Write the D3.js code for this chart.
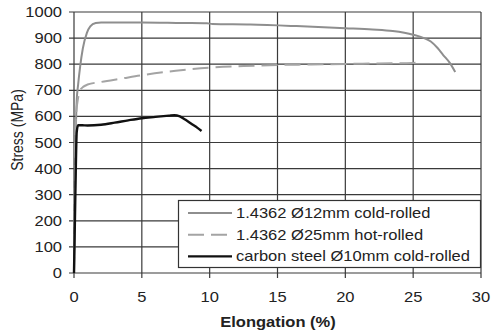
<!DOCTYPE html>
<html>
<head>
<meta charset="utf-8">
<script src="https://d3js.org/d3.v7.min.js"></script>
<style>
  body { margin: 0; background: #fff; }
  text { font-family: "Liberation Sans", Arial, sans-serif; fill: #222; }
</style>
</head>
<body>
<div id="chart"></div>
<script>
var width = 496;
var height = 331;

// tick values
var xTicks = [0, 5, 10, 15, 20, 25, 30];
var yTicks = [0, 100, 200, 300, 400, 500, 600, 700, 800, 900, 1000];

// 1.4362 Ø12mm cold-rolled
var coldElong  = [0, 0.1, 0.2, 0.3, 0.45, 0.65, 0.95, 1.2, 1.6, 2, 5, 8, 9.8, 10.2, 13, 16.4, 20, 22, 23.5, 25, 25.8, 26.3, 26.8, 27.2, 27.7, 28.1];
var coldStress = [0, 450, 660, 720, 790, 860, 920, 945, 958, 960, 960, 958, 957, 954, 952, 946, 938, 933, 927, 913, 900, 887, 862, 836, 805, 770];

// 1.4362 Ø25mm hot-rolled
var hotElong  = [0, 0.08, 0.15, 0.3, 0.45, 0.7, 1, 2, 3.5, 5, 7.5, 10, 12.5, 15, 17.5, 20, 22.5, 25, 25.5];
var hotStress = [0, 450, 600, 670, 700, 714, 722, 732, 745, 758, 775, 787, 793, 797, 799, 801, 803, 805, 806];

// carbon steel Ø10mm cold-rolled
var carbElong  = [0, 0.1, 0.2, 0.3, 0.6, 1, 2, 3, 4, 5, 6, 7, 7.4, 7.8, 8.2, 8.7, 9.1, 9.4];
var carbStress = [0, 300, 540, 566, 566, 565, 568, 576, 585, 593, 598, 603, 605, 600, 588, 570, 556, 544];

var seriesNames = ["1.4362 \u00d812mm cold-rolled", "1.4362 \u00d825mm hot-rolled", "carbon steel \u00d810mm cold-rolled"];

var margin = {top: 12, right: 15, bottom: 58, left: 74};
var sx = 1.18; // text is a bit wide in the picture

var svg = d3.select("#chart").append("svg")
    .attr("width", width)
    .attr("height", height);

var x = d3.scaleLinear().domain([0, 30]).range([margin.left, width - margin.right]);
var y = d3.scaleLinear().domain([0, 1000]).range([height - margin.bottom, margin.top]);

// grid
svg.append("g")
    .selectAll("line")
    .data(yTicks)
    .join("line")
    .attr("x1", x(0) - 5)
    .attr("x2", x(30))
    .attr("y1", function(d) { return y(d); })
    .attr("y2", function(d) { return y(d); })
    .attr("stroke", "#3a3a3a")
    .attr("stroke-width", 1.2);

svg.append("g")
    .selectAll("line")
    .data(xTicks)
    .join("line")
    .attr("x1", function(d) { return x(d); })
    .attr("x2", function(d) { return x(d); })
    .attr("y1", y(1000))
    .attr("y2", y(0) + 5)
    .attr("stroke", "#3a3a3a")
    .attr("stroke-width", 1.2);

// tick labels
svg.append("g")
    .selectAll("text")
    .data(yTicks)
    .join("text")
    .attr("transform", function(d) { return "translate(62," + (y(d) + 5) + ") scale(" + sx + ",1)"; })
    .attr("text-anchor", "end")
    .attr("font-size", 14)
    .text(function(d) { return d; });

svg.append("g")
    .selectAll("text")
    .data(xTicks)
    .join("text")
    .attr("transform", function(d) { return "translate(" + x(d) + ",302) scale(" + sx + ",1)"; })
    .attr("text-anchor", "middle")
    .attr("font-size", 14)
    .text(function(d) { return d; });

// axis titles
svg.append("text")
    .attr("transform", "translate(278,327) scale(" + sx + ",1)")
    .attr("text-anchor", "middle")
    .attr("font-size", 14)
    .attr("font-weight", "bold")
    .text("Elongation (%)");

svg.append("text")
    .attr("transform", "translate(23,130) rotate(-90) scale(1," + sx + ")")
    .attr("text-anchor", "middle")
    .attr("font-size", 14)
    .text("Stress (MPa)");

// curves
var line = d3.line()
    .x(function(d) { return x(d[0]); })
    .y(function(d) { return y(d[1]); })
    .curve(d3.curveMonotoneX);

var styles = [
  {color: "#8e8e8e", width: 2, dash: null},
  {color: "#a4a4a4", width: 2, dash: "16,7"},
  {color: "#111111", width: 2.4, dash: null}
];

var series = [
  d3.zip(coldElong, coldStress),
  d3.zip(hotElong, hotStress),
  d3.zip(carbElong, carbStress)
];

svg.append("g")
    .selectAll("path")
    .data(series)
    .join("path")
    .attr("d", line)
    .attr("fill", "none")
    .attr("stroke", function(d, i) { return styles[i].color; })
    .attr("stroke-width", function(d, i) { return styles[i].width; })
    .attr("stroke-dasharray", function(d, i) { return styles[i].dash; });

// legend
var legend = svg.append("g");
legend.append("rect")
    .attr("x", 178.5)
    .attr("y", 200.5)
    .attr("width", 302)
    .attr("height", 67)
    .attr("fill", "#fff")
    .attr("stroke", "#333")
    .attr("stroke-width", 1.2);

var rows = legend.selectAll("g.row")
    .data(seriesNames)
    .join("g")
    .attr("class", "row")
    .attr("transform", function(d, i) { return "translate(0," + (213 + i * 21.7) + ")"; });

rows.append("line")
    .attr("x1", 188)
    .attr("x2", 232)
    .attr("stroke", function(d, i) { return styles[i].color; })
    .attr("stroke-width", function(d, i) { return styles[i].width; })
    .attr("stroke-dasharray", function(d, i) { return styles[i].dash; });

rows.append("text")
    .attr("transform", "translate(236,5) scale(" + sx + ",1)")
    .attr("font-size", 14)
    .text(function(d) { return d; });
</script>
</body>
</html>
